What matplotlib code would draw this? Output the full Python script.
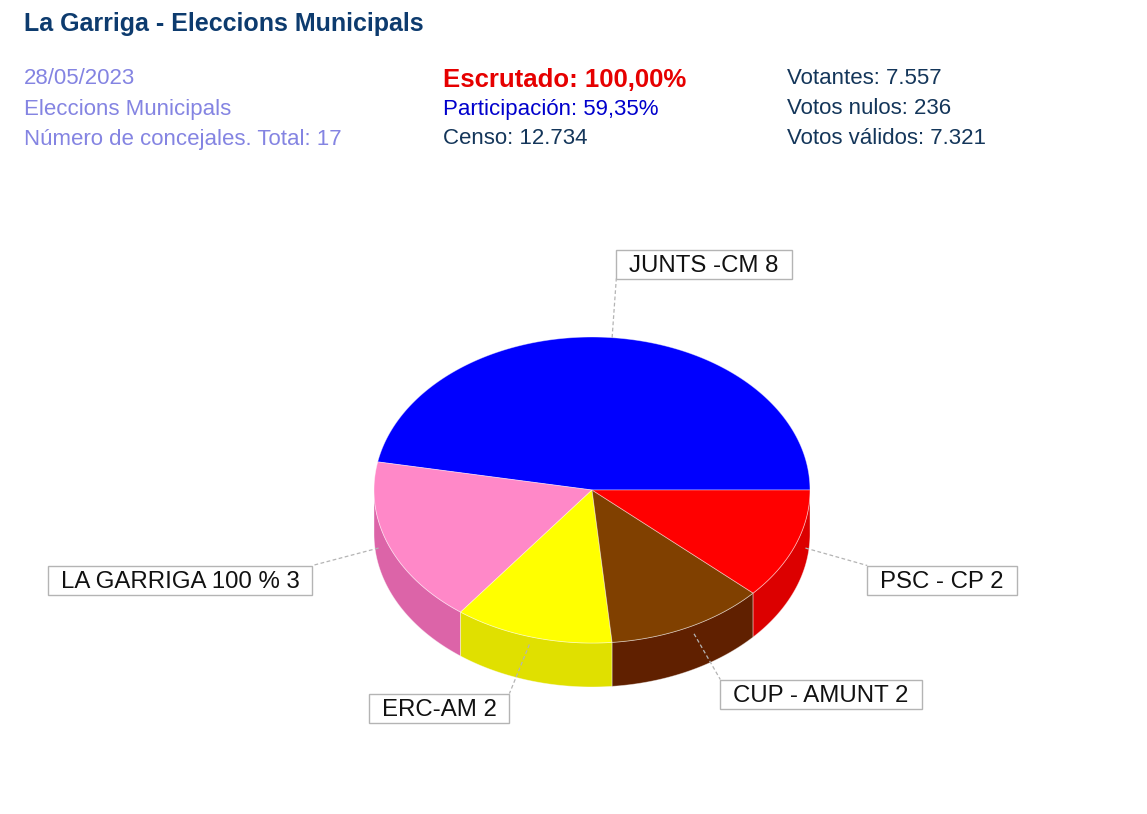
import numpy as np
import matplotlib.pyplot as plt
from matplotlib.patches import Polygon, Rectangle

# seats per party (counter-clockwise from 3 o'clock)
parties = ['JUNTS -CM', 'LA GARRIGA 100 %', 'ERC-AM', 'CUP - AMUNT', 'PSC - CP']
seats = [8, 3, 2, 2, 2]
top_colors = ['#0000FF', '#FF88C8', '#FFFF00', '#804000', '#FF0000']
side_colors = ['#0000C0', '#DC64A8', '#E0E000', '#602000', '#DC0000']

info_left = ['28/05/2023', 'Eleccions Municipals', 'Número de concejales. Total: 17']
info_mid = ['Escrutado: 100,00%', 'Participación: 59,35%', 'Censo: 12.734']
info_right = ['Votantes: 7.557', 'Votos nulos: 236', 'Votos válidos: 7.321']

plt.rcParams['font.family'] = ['Liberation Sans', 'DejaVu Sans']

W, H = 1147, 814
fig = plt.figure(figsize=(W / 100, H / 100), dpi=100)
ax = fig.add_axes([0, 0, 1, 1])
ax.set_xlim(0, W)
ax.set_ylim(H, 0)
ax.axis('off')

# header (y = text baselines)
ax.text(24, 31.5, 'La Garriga - Eleccions Municipals', fontsize=18, fontweight='bold',
        color='#0D3B6E', va='baseline')
rows = [83.5, 114.5, 144.5]
for i, s in enumerate(info_left):
    ax.text(24, rows[i], s, fontsize=16, color='#8484E2', va='baseline')
mid_styles = [dict(fontsize=18.5, fontweight='bold', color='#E60000'),
              dict(fontsize=16, color='#0000CC'),
              dict(fontsize=16, color='#14365A')]
mid_rows = [87, 114.5, 144.5]
for i, s in enumerate(info_mid):
    ax.text(443, mid_rows[i], s, va='baseline', **mid_styles[i])
for i, s in enumerate(info_right):
    ax.text(787, rows[i], s, fontsize=16, color='#14365A', va='baseline')

# 3D pie geometry (pixels)
cx, cy, rx, ry, depth = 592, 490, 218, 153, 44
vals = np.array(seats, dtype=float)
bounds = np.concatenate([[0], np.cumsum(vals) / vals.sum() * 360])
edge = (1, 1, 1, 0.45)


def pt(t, k=1.0):
    r = np.radians(t)
    return cx + k * rx * np.cos(r), cy - k * ry * np.sin(r)


# side walls (front half only)
for i in range(len(seats)):
    lo, hi = max(bounds[i], 180), min(bounds[i + 1], 360)
    if lo >= hi:
        continue
    ts = np.linspace(lo, hi, 80)
    xs, ys = pt(ts)
    poly = np.column_stack([np.concatenate([xs, xs[::-1]]),
                            np.concatenate([ys, ys[::-1] + depth])])
    ax.add_patch(Polygon(poly, closed=True, facecolor=side_colors[i],
                         edgecolor=edge, linewidth=0.6))

# top face
for i in range(len(seats)):
    ts = np.linspace(bounds[i], bounds[i + 1], 150)
    xs, ys = pt(ts)
    poly = np.column_stack([np.concatenate([[cx], xs]), np.concatenate([[cy], ys])])
    ax.add_patch(Polygon(poly, closed=True, facecolor=top_colors[i],
                         edgecolor=edge, linewidth=0.6))

# labels (box centres)
label_pos = [(704, 264), (180, 580), (439, 708), (821, 694), (942, 580)]
texts = []
for i, name in enumerate(parties):
    texts.append(ax.text(label_pos[i][0], label_pos[i][1] + 8.5, f'{name} {seats[i]}',
                         fontsize=17.3, color='#111111', ha='center', va='baseline',
                         zorder=5))

fig.canvas.draw()
rend = fig.canvas.get_renderer()
inv = ax.transData.inverted()
for i, t in enumerate(texts):
    bb = t.get_window_extent(renderer=rend).transformed(inv)
    x0, x1 = min(bb.x0, bb.x1) - 13, max(bb.x0, bb.x1) + 13
    y0, y1 = label_pos[i][1] - 14.5, label_pos[i][1] + 14.5
    ax.add_patch(Rectangle((x0, y0), x1 - x0, y1 - y0, facecolor='white',
                           edgecolor='#B4B4B4', linewidth=1.0, zorder=4))
    mid = (bounds[i] + bounds[i + 1]) / 2
    front = np.sin(np.radians(mid)) < 0
    sx, sy = pt(mid, 1.05 if front else 1.0)
    corners = [(x0, y0), (x1, y0), (x0, y1), (x1, y1)]
    ex, ey = min(corners, key=lambda c: (c[0] - sx) ** 2 + (c[1] - sy) ** 2)
    ax.plot([sx, ex], [sy, ey], color='#B4B4B4', linewidth=0.9,
            linestyle=(0, (3, 2)), zorder=3)

fig.savefig('out.png', dpi=100, facecolor='white')
